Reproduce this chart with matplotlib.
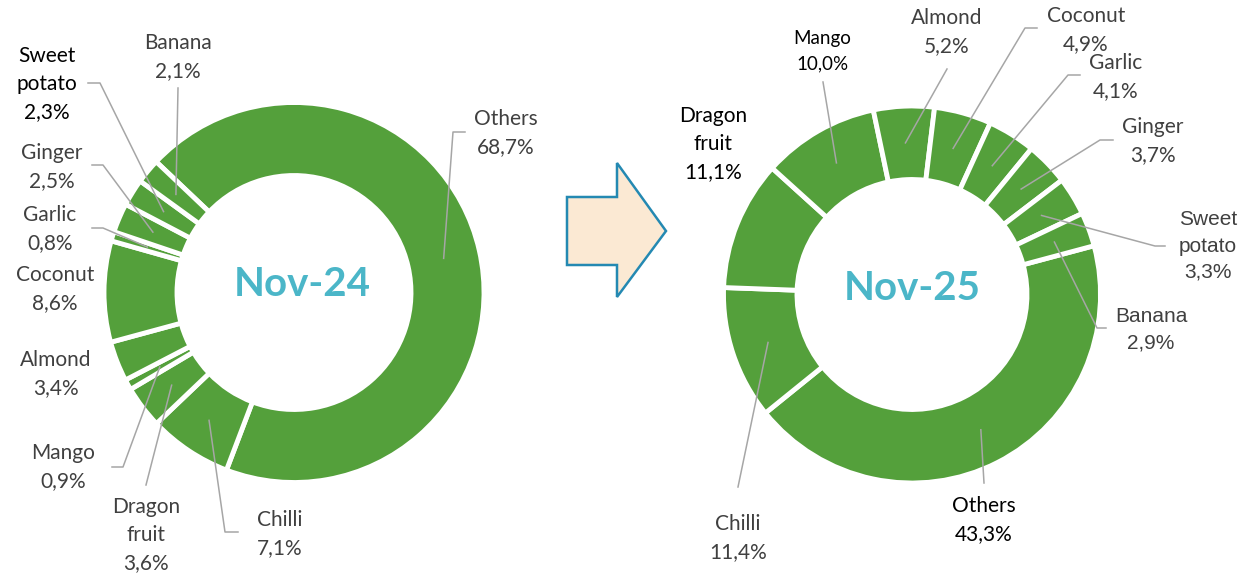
import numpy as np
import matplotlib
matplotlib.use("Agg")
import matplotlib.pyplot as plt
from matplotlib.patches import Polygon

# data
fruits = ["Others", "Chilli", "Dragon fruit", "Mango", "Almond", "Coconut",
          "Garlic", "Ginger", "Sweet potato", "Banana"]
share_nov24 = [68.7, 7.1, 3.6, 0.9, 3.4, 8.6, 0.8, 2.5, 2.3, 2.1]
share_nov25 = [43.3, 11.4, 11.1, 10.0, 5.2, 4.9, 4.1, 3.7, 3.3, 2.9]
titles = ["Nov-24", "Nov-25"]

W, H = 1246, 577
green = "#54A03B"
grey_txt = "#404040"
line_col = "#A6A6A6"

# layout in pixel coords (y from top): text centre, leader points from label side
layout24 = {
    "Others": ((506, 133), [(465, 132), (453, 132)]),
    "Chilli": ((280, 534), [(238, 532), (225, 532)]),
    "Dragon fruit": ((146, 535), [(146, 485)]),
    "Mango": ((63, 467), [(112, 467), (123, 467)]),
    "Almond": ((56, 374), []),
    "Coconut": ((55, 289), []),
    "Garlic": ((50, 229), [(92, 228), (103, 228)]),
    "Ginger": ((52, 167), [(92, 165), (103, 165)]),
    "Sweet potato": ((47, 84), [(88, 83), (100, 83)]),
    "Banana": ((178, 57), [(178, 88)]),
}
layout25 = {
    "Others": ((984, 520), [(984, 483)]),
    "Chilli": ((738, 538), [(738, 487)]),
    "Dragon fruit": ((713, 144), []),
    "Mango": ((822, 51), [(823, 82)]),
    "Almond": ((947, 32), [(947, 69)]),
    "Coconut": ((1086, 30), [(1037, 28), (1025, 28)]),
    "Garlic": ((1116, 77), [(1080, 75), (1068, 75)]),
    "Ginger": ((1153, 141), [(1113, 140), (1100, 140)]),
    "Sweet potato": ((1208, 246), [(1165, 246), (1155, 246)]),
    "Banana": ((1151, 330), [(1106, 328), (1097, 328)]),
}
black24 = {"Sweet potato"}
black25 = {"Dragon fruit", "Mango", "Others"}
arial25 = {"Sweet potato", "Banana"}

fig = plt.figure(figsize=(W / 100, H / 100), dpi=100)
ax = fig.add_axes([0, 0, 1, 1])


def label_text(name, val):
    nm = name.replace(" ", "\n")
    return f"{nm}\n{val:.1f}%".replace(".", ",")


def donut(vals, centre, r_out, r_in, start, layout, blacks, arials, title, title_pos, small=()):
    cx, cy = centre
    wedges, _ = ax.pie(vals, radius=r_out, center=(cx, H - cy), startangle=start,
                       counterclock=False, colors=[green] * len(vals),
                       wedgeprops=dict(width=r_out - r_in, edgecolor="white", linewidth=3.5))
    r_mid = (r_out + r_in) / 2
    for w, name, v in zip(wedges, fruits, vals):
        (tx, ty), pts = layout[name]
        if pts:
            a = np.deg2rad((w.theta1 + w.theta2) / 2)
            xs = [p[0] for p in pts] + [cx + r_mid * np.cos(a)]
            ys = [H - p[1] for p in pts] + [H - cy + r_mid * np.sin(a)]
            ax.plot(xs, ys, color=line_col, lw=1.1, zorder=3)
        fam = ["Liberation Sans", "DejaVu Sans"] if name in arials else ["Lato", "DejaVu Sans"]
        col = "black" if name in blacks else grey_txt
        fs = 13.5 if name in small else 15
        ls = 1.6 if name in small else 1.5
        ax.text(tx, H - ty, label_text(name, v), ha="center", va="center",
                fontsize=fs, color=col, family=fam, linespacing=ls)
    ax.text(title_pos[0], H - title_pos[1], title, ha="center", va="center",
            fontsize=29, fontweight="bold", color="#4BB6C8", family=["Lato", "DejaVu Sans"])


donut(share_nov24, (294, 292.5), 190, 117, 136.5, layout24, black24, set(),
      titles[0], (302, 284))
donut(share_nov25, (912, 294.5), 188.5, 115, 15, layout25, black25, arial25,
      titles[1], (912, 288), small={"Mango"})

# arrow between the two donuts
arrow = [(567, 197), (617, 197), (617, 163), (666, 231), (617, 297), (617, 265), (567, 265)]
ax.add_patch(Polygon([(x, H - y) for x, y in arrow], closed=True,
                     facecolor="#FBE9D3", edgecolor="#2489B2", lw=1.8, joinstyle="miter"))

ax.set_aspect("equal")
ax.set_xlim(0, W)
ax.set_ylim(0, H)
ax.axis("off")
fig.savefig("out.png", dpi=100)
